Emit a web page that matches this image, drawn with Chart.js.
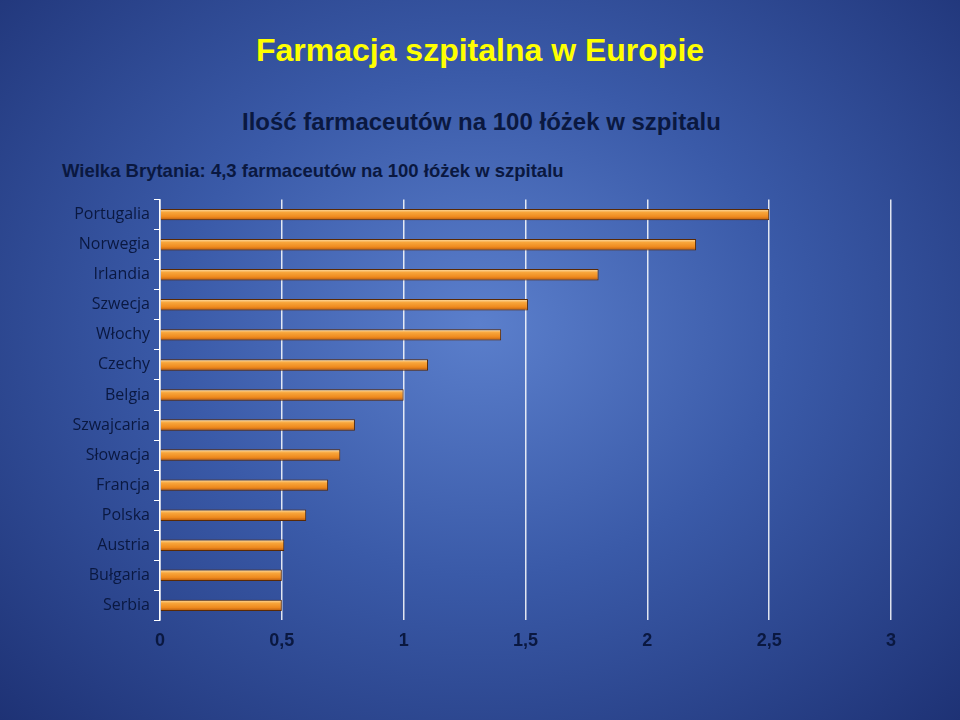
<!DOCTYPE html>
<html>
<head>
<meta charset="utf-8">
<script src="https://cdn.jsdelivr.net/npm/chart.js@4"></script>
<style>
  html, body { margin: 0; padding: 0; }
  body {
    width: 960px; height: 720px; overflow: hidden; position: relative;
    background: radial-gradient(ellipse at 50% 45%, #5b7fcc 0%, #3a5aa8 45%, #1e3275 100%);
    font-family: "Liberation Sans", Arial, sans-serif;
  }
  h1 { position: absolute; left: 0; width: 960px; top: 32px; margin: 0; text-align: center;
       color: #ffff00; font-size: 32px; font-weight: bold; }
  .sub { position: absolute; left: 242px; top: 108px; color: #0a1840; font-size: 24px; font-weight: bold; }
  .note { position: absolute; left: 62px; top: 160px; color: #0a1840; font-size: 18.5px; font-weight: bold; }
  #wrap { position: absolute; left: 0; top: 186px; width: 960px; height: 476px; }
</style>
</head>
<body>
<h1>Farmacja szpitalna w Europie</h1>
<div class="sub">Ilość farmaceutów na 100 łóżek w szpitalu</div>
<div class="note">Wielka Brytania: 4,3 farmaceutów na 100 łóżek w szpitalu</div>
<div id="wrap"><canvas id="chart"></canvas></div>
<script>
const countries = ['Portugalia', 'Norwegia', 'Irlandia', 'Szwecja', 'Włochy', 'Czechy', 'Belgia',
  'Szwajcaria', 'Słowacja', 'Francja', 'Polska', 'Austria', 'Bułgaria', 'Serbia'];
const pharmacists = [2.5, 2.2, 1.8, 1.51, 1.4, 1.1, 1.0, 0.8, 0.74, 0.69, 0.6, 0.51, 0.5, 0.5];
const tickLabels = ['0', '0,5', '1', '1,5', '2', '2,5', '3'];

// vertical orange gradient per bar, centred on the bar's category row
function barFill(ctx) {
  const chart = ctx.chart;
  const yScale = chart.scales && chart.scales.y;
  if (!yScale || ctx.dataIndex === undefined || !chart.chartArea) return '#f39a2c';
  const y = yScale.getPixelForValue(ctx.dataIndex);
  const h = 11;
  const g = chart.ctx.createLinearGradient(0, y - h / 2, 0, y + h / 2);
  g.addColorStop(0, '#fde2ae');
  g.addColorStop(0.3, '#f8a53a');
  g.addColorStop(0.7, '#ee8a1f');
  g.addColorStop(1, '#b85a0c');
  return g;
}

new Chart(document.getElementById('chart'), {
  type: 'bar',
  data: {
    labels: countries,
    datasets: [{
      data: pharmacists,
      backgroundColor: barFill,
      borderColor: '#5a2a05',
      borderWidth: 1,
      barPercentage: 0.38,
      categoryPercentage: 1
    }]
  },
  options: {
    indexAxis: 'y',
    responsive: true,
    maintainAspectRatio: false,
    animation: false,
    layout: { padding: { left: 70, right: 69, top: 0, bottom: 0 } },
    plugins: { legend: { display: false }, tooltip: { enabled: false } },
    scales: {
      x: {
        min: 0, max: 3,
        ticks: { stepSize: 0.5, color: '#0a1840', font: { family: 'Liberation Sans', size: 18, weight: 'bold' },
          padding: 10, callback: (v, i) => tickLabels[i] },
        grid: { color: 'rgba(255,255,255,0.85)', lineWidth: 1.5, drawTicks: false },
        border: { display: false }
      },
      y: {
        afterFit: s => { s.width = 90; },
        ticks: { color: '#0a1840', font: { family: 'Open Sans', size: 16 }, padding: 4 },
        grid: { display: true, offset: true, drawOnChartArea: false, color: '#ffffff', tickLength: 6 },
        border: { color: '#ffffff', width: 1.5 }
      }
    }
  }
});
</script>
</body>
</html>
